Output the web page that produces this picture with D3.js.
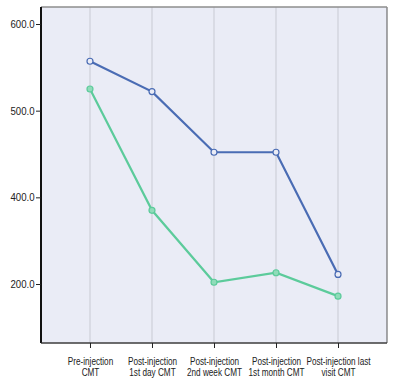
<!DOCTYPE html>
<html>
<head>
<meta charset="utf-8">
<script src="https://cdn.jsdelivr.net/npm/d3@7"></script>
<style>
  body { margin: 0; background: #fff; }
  svg text { font-family: "Liberation Sans", Arial, sans-serif; fill: #222; }
</style>
</head>
<body>
<svg width="396" height="380"></svg>
<script>
// time points (two-line labels)
var categories = [
    ["Pre-injection", "CMT"],
    ["Post-injection", "1st day CMT"],
    ["Post-injection", "2nd week CMT"],
    ["Post-injection", "1st month CMT"],
    ["Post-injection last", "visit CMT"]
];
var seriesBlue = [557, 522, 452, 452, 311];
var seriesGreen = [525, 385, 302, 313, 286];
var yTickValues = [600, 500, 400, 300];
var yTickLabels = ["600.0", "500.0", "400.0", "200.0"]; // as printed on the figure

var svg = d3.select("svg"),
    plotL = 41, plotR = 387, plotT = 7, plotB = 343;

// plot background
svg.append("rect")
    .attr("x", plotL).attr("y", plotT)
    .attr("width", plotR - plotL).attr("height", plotB - plotT)
    .attr("fill", "#eaecf6");

var x = d3.scalePoint()
    .domain(d3.range(categories.length))
    .range([plotL, plotR])
    .padding(0.79);

var y = d3.scaleLinear()
    .domain([300, 600])
    .range([284, 24]);

// vertical grid lines
svg.append("g").selectAll("line")
    .data(x.domain())
    .enter().append("line")
    .attr("x1", function(d) { return x(d); })
    .attr("x2", function(d) { return x(d); })
    .attr("y1", plotT).attr("y2", plotB)
    .attr("stroke", "#c8cad3").attr("stroke-width", 1);

// frame: top/right/bottom
svg.append("path")
    .attr("d", "M" + plotL + "," + plotT + "H" + plotR + "V" + plotB + "H" + plotL)
    .attr("fill", "none")
    .attr("stroke", "#555").attr("stroke-width", 1);
svg.append("line")
    .attr("x1", plotL).attr("x2", plotR).attr("y1", plotT).attr("y2", plotT)
    .attr("stroke", "#aaa");

// y axis
var yAxis = svg.append("g")
    .attr("transform", "translate(" + plotL + ",0)")
    .call(d3.axisLeft(y)
        .tickValues(yTickValues)
        .tickSize(5)
        .tickPadding(2)
        .tickFormat(function(d, i) { return yTickLabels[i]; }));
yAxis.select(".domain").attr("stroke", "#111").attr("stroke-width", 2)
    .attr("d", "M0," + plotT + "V" + plotB);
yAxis.selectAll(".tick line").attr("stroke", "#222");
yAxis.selectAll(".tick text").attr("font-size", 10.5).style("fill", "#222")
    .attr("transform", "scale(0.92,1)");

// x axis
var xAxis = svg.append("g")
    .attr("transform", "translate(0," + plotB + ")")
    .call(d3.axisBottom(x).tickSize(5).tickFormat(""));
xAxis.select(".domain").attr("stroke", "#333").attr("d", "M" + plotL + ",0H" + plotR);
xAxis.selectAll(".tick line").attr("stroke", "#222");
xAxis.selectAll(".tick").each(function(d) {
    var t = d3.select(this).append("text")
        .attr("text-anchor", "middle")
        .attr("font-size", 10)
        .attr("transform", "scale(0.82,1)")
        .style("fill", "#222");
    categories[d].forEach(function(s, i) {
        t.append("tspan").attr("x", 0).attr("y", 22 + i * 11).text(s);
    });
});

var line = d3.line()
    .x(function(d, i) { return x(i); })
    .y(function(d) { return y(d); });

function drawSeries(values, color, markerFill) {
    svg.append("path")
        .datum(values)
        .attr("fill", "none")
        .attr("stroke", color)
        .attr("stroke-width", 2.2)
        .attr("d", line);
    svg.append("g").selectAll("circle")
        .data(values)
        .enter().append("circle")
        .attr("cx", function(d, i) { return x(i); })
        .attr("cy", function(d) { return y(d); })
        .attr("r", 3)
        .attr("fill", markerFill)
        .attr("stroke", color)
        .attr("stroke-width", 1.2);
}

drawSeries(seriesGreen, "#5ccb9b", "#8fdcb9");
drawSeries(seriesBlue, "#4a6cb4", "#eaecf6");
</script>
</body>
</html>
